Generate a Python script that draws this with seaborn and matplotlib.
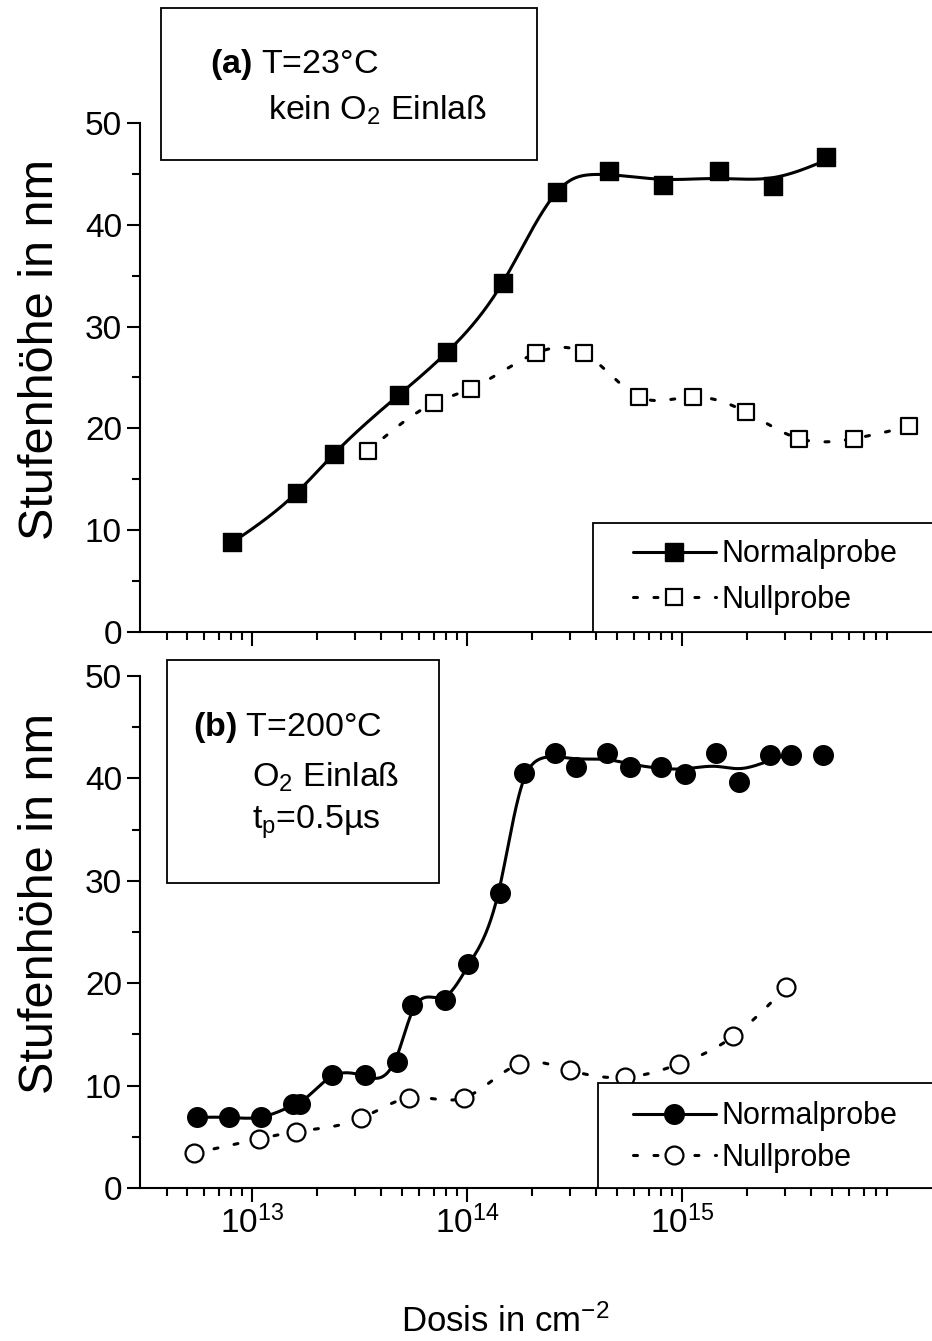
import numpy as np
import matplotlib
matplotlib.use("Agg")
import matplotlib.pyplot as plt
from matplotlib.patches import Rectangle
from matplotlib.lines import Line2D
from matplotlib.ticker import FixedLocator, LogFormatterMathtext, MultipleLocator, NullFormatter
import seaborn as sns

# ---------------- data ----------------
# (a) T = 23 °C, kein O2 Einlaß
dose_a_normal = [8.1e12, 1.62e13, 2.40e13, 4.83e13, 8.07e13, 1.47e14, 2.62e14,
                 4.57e14, 8.16e14, 1.49e15, 2.65e15, 4.68e15]
height_a_normal = [8.8, 13.7, 17.5, 23.3, 27.5, 34.3, 43.2, 45.3, 43.9, 45.3, 43.8, 46.7]
dose_a_null = [3.47e13, 7.03e13, 1.04e14, 2.10e14, 3.50e14, 6.31e14, 1.12e15,
               1.99e15, 3.50e15, 6.31e15, 1.14e16]
height_a_null = [17.8, 22.5, 23.9, 27.4, 27.4, 23.1, 23.1, 21.6, 19.0, 19.0, 20.2]

# (b) T = 200 °C, O2 Einlaß, t_p = 0.5 µs
dose_b_normal = [5.54e12, 7.82e12, 1.10e13, 1.55e13, 1.67e13, 2.36e13, 3.36e13, 4.73e13,
                 5.55e13, 7.91e13, 1.01e14, 1.42e14, 1.84e14, 2.57e14, 3.21e14, 4.48e14,
                 5.73e14, 7.98e14, 1.03e15, 1.44e15, 1.84e15, 2.57e15, 3.21e15, 4.53e15]
height_b_normal = [6.9, 6.9, 6.9, 8.2, 8.2, 11.0, 11.0, 12.3, 17.9, 18.4, 21.9, 28.8,
                   40.5, 42.5, 41.1, 42.5, 41.1, 41.1, 40.4, 42.5, 39.6, 42.3, 42.3, 42.3]
dose_b_null = [5.37e12, 1.08e13, 1.60e13, 3.21e13, 5.37e13, 9.68e13, 1.75e14, 3.01e14,
               5.43e14, 9.68e14, 1.73e15, 3.05e15]
height_b_null = [3.4, 4.8, 5.5, 6.8, 8.8, 8.8, 12.1, 11.5, 10.8, 12.1, 14.8, 19.6]

major_x = [1e13, 1e14, 1e15]
y_ticks = [0, 10, 20, 30, 40, 50]
series_labels = ["Normalprobe", "Nullprobe"]

# ---------------- style ----------------
sns.set_style("ticks", {"axes.edgecolor": "black", "text.color": "black",
                        "xtick.color": "black", "ytick.color": "black",
                        "axes.labelcolor": "black"})
plt.rcParams["font.family"] = ["Liberation Sans", "DejaVu Sans"]
plt.rcParams["mathtext.fontset"] = "custom"
plt.rcParams["mathtext.rm"] = "Liberation Sans"
plt.rcParams["mathtext.sf"] = "Liberation Sans"
plt.rcParams["mathtext.it"] = "Liberation Sans:italic"
plt.rcParams["mathtext.bf"] = "Liberation Sans:bold"
plt.rcParams["mathtext.default"] = "regular"

W, H = 932, 1341
fig = plt.figure(figsize=(W / 100, H / 100), dpi=100)


def fx(px):
    return px / W


def fy(py):
    return 1 - py / H


def smooth_curve(dose, height, lam_lo, lam_hi, t_split, n=700):
    """Penalised (smoothing-spline like) curve in log10(dose); stiffer above t_split."""
    t = np.log10(np.asarray(dose, float))
    y = np.asarray(height, float)
    g = np.linspace(t.min(), t.max(), n)
    h = g[1] - g[0]
    idx = np.clip(np.searchsorted(g, t, side="right") - 1, 0, n - 2)
    w = (t - g[idx]) / h
    A = np.zeros((len(t), n))
    A[np.arange(len(t)), idx] = 1 - w
    A[np.arange(len(t)), idx + 1] = w
    D = (np.eye(n)[:-2] - 2 * np.eye(n, k=1)[:-2] + np.eye(n, k=2)[:-2]) / h ** 2
    gm = g[1:-1]
    blend = 1 / (1 + np.exp(-(gm - t_split) / 0.04))
    lam = np.exp(np.log(lam_lo) * (1 - blend) + np.log(lam_hi) * blend)
    M = A.T @ A + h * (D.T @ (lam[:, None] * D))
    z = np.linalg.solve(M, A.T @ y)
    return 10 ** g, z


LW = 2.2
DASH = (0, (1.3, 5.4))
SQ_FILL, SQ_OPEN = 160, 146
CI_FILL, CI_OPEN = 199, 166


def style_axis(ax, show_xlabels):
    ax.set_xscale("log")
    ax.set_xlim(3.01e12, 1.456e16)
    ax.set_ylim(0, 50)
    ax.xaxis.set_major_locator(FixedLocator(major_x))
    minors = [m * 10.0 ** e for e in range(12, 16) for m in range(2, 10)]
    minors = [v for v in minors if v > 3.5e12]
    ax.xaxis.set_minor_locator(FixedLocator(minors))
    ax.xaxis.set_minor_formatter(NullFormatter())
    ax.xaxis.set_major_formatter(LogFormatterMathtext())
    ax.yaxis.set_major_locator(FixedLocator(y_ticks))
    ax.yaxis.set_minor_locator(MultipleLocator(5))
    ax.tick_params(axis="x", which="major", length=10, width=1.5, direction="out",
                   labelsize=24, pad=3, labelbottom=show_xlabels)
    ax.tick_params(axis="x", which="minor", length=6, width=1.5, direction="out")
    ax.tick_params(axis="y", which="major", length=9.5, width=1.5, direction="out",
                   labelsize=24, pad=3.5)
    ax.tick_params(axis="y", which="minor", length=5.5, width=1.5, direction="out")
    for s in ("top", "right"):
        ax.spines[s].set_visible(False)
    for s in ("left", "bottom"):
        ax.spines[s].set_linewidth(1.5)
    ax.set_ylabel("Stufenhöhe in nm", fontsize=35)
    ax.yaxis.set_label_coords(-0.097, 0.555)
    ax.set_xlabel("")
    ax.patch.set_alpha(0)


def draw_series(ax, dose, height, marker, filled, lams, line_end=None):
    d = dose if line_end is None else dose[:line_end]
    hh = height if line_end is None else height[:line_end]
    xs, ys = smooth_curve(d, hh, *lams)
    if filled:
        sns.lineplot(x=xs, y=ys, ax=ax, color="black", lw=LW, estimator=None,
                     sort=False, zorder=2)
        size = SQ_FILL if marker == "s" else CI_FILL
        sns.scatterplot(x=dose, y=height, ax=ax, marker=marker, s=size, color="black",
                        edgecolor="black", linewidth=1.0, zorder=3)
    else:
        sns.lineplot(x=xs, y=ys, ax=ax, color="black", lw=LW, estimator=None,
                     sort=False, zorder=2, linestyle=DASH, dash_capstyle="round")
        size = SQ_OPEN if marker == "s" else CI_OPEN
        sns.scatterplot(x=dose, y=height, ax=ax, marker=marker, s=size, color="white",
                        edgecolor="black", linewidth=1.6, zorder=3)


def legend_handles(marker):
    ms_fill = np.sqrt(SQ_FILL if marker == "s" else CI_FILL)
    ms_open = np.sqrt(SQ_OPEN if marker == "s" else CI_OPEN)
    h1 = Line2D([], [], color="black", lw=LW, marker=marker, ms=ms_fill,
                mfc="black", mec="black", mew=1.0)
    h2 = Line2D([], [], color="black", lw=LW, linestyle=DASH, dash_capstyle="round",
                marker=marker, ms=ms_open, mfc="white", mec="black", mew=1.6)
    return [h1, h2]


# ---------------- panel (a) ----------------
ax_a = fig.add_axes([fx(140), fy(632), fx(932) - fx(140), fy(123) - fy(632)])
draw_series(ax_a, dose_a_normal, height_a_normal, "s", True, (6e-5, 2e-3, 14.56))
draw_series(ax_a, dose_a_null, height_a_null, "s", False, (2e-6, 2e-6, 14.5))
style_axis(ax_a, False)

# ---------------- panel (b) ----------------
ax_b = fig.add_axes([fx(140), fy(1188), fx(932) - fx(140), fy(676) - fy(1188)])
draw_series(ax_b, dose_b_normal, height_b_normal, "o", True, (2e-5, 5e-4, 14.33),
            line_end=23)
draw_series(ax_b, dose_b_null, height_b_null, "o", False, (2e-6, 2e-6, 14.5))
style_axis(ax_b, True)
ax_b.set_xlabel("Dosis in cm$^{-2}$", fontsize=25)
ax_b.xaxis.set_label_coords((505 - 140) / 792, (1188 - 1304) / 512)

# ---------------- legends ----------------
for ax, marker, (x0, y0, y1), ymid, spacing in (
        (ax_a, "s", (593, 523, 632), 577, 0.5),
        (ax_b, "o", (598, 1083, 1188), 1137, 0.37)):
    ax.add_patch(Rectangle((fx(x0), fy(y1)), fx(960) - fx(x0), fy(y0) - fy(y1),
                           transform=fig.transFigure, facecolor="white",
                           edgecolor="black", lw=1.3, zorder=4, clip_on=False))
    leg = ax.legend(legend_handles(marker), series_labels, loc="center left",
                    bbox_to_anchor=(fx(633), fy(ymid)), bbox_transform=fig.transFigure,
                    frameon=False, borderpad=0, borderaxespad=0, handlelength=2.7,
                    handletextpad=0.2, labelspacing=spacing, fontsize=22)
    leg.set_zorder(6)

# ---------------- condition boxes ----------------
for (x0, y0, x1, y1) in ((161, 8, 537, 160), (167, 660, 439, 883)):
    fig.add_artist(Rectangle((fx(x0), fy(y1)), fx(x1) - fx(x0), fy(y0) - fy(y1),
                             transform=fig.transFigure, facecolor="white",
                             edgecolor="black", lw=1.3, zorder=4))

box_texts = [
    (210, 65, r"$\mathbf{(a)}$ T=23°C"),
    (268, 110, r"kein O$_2$ Einlaß"),
    (193, 727, r"$\mathbf{(b)}$ T=200°C"),
    (252, 777, r"O$_2$ Einlaß"),
    (252, 822, r"t$_p$=0.5µs"),
]
for x, y, s in box_texts:
    fig.text(fx(x), fy(y), s, fontsize=24.5, ha="left", va="center", zorder=7)

fig.savefig("out.png", dpi=100, facecolor="white")
